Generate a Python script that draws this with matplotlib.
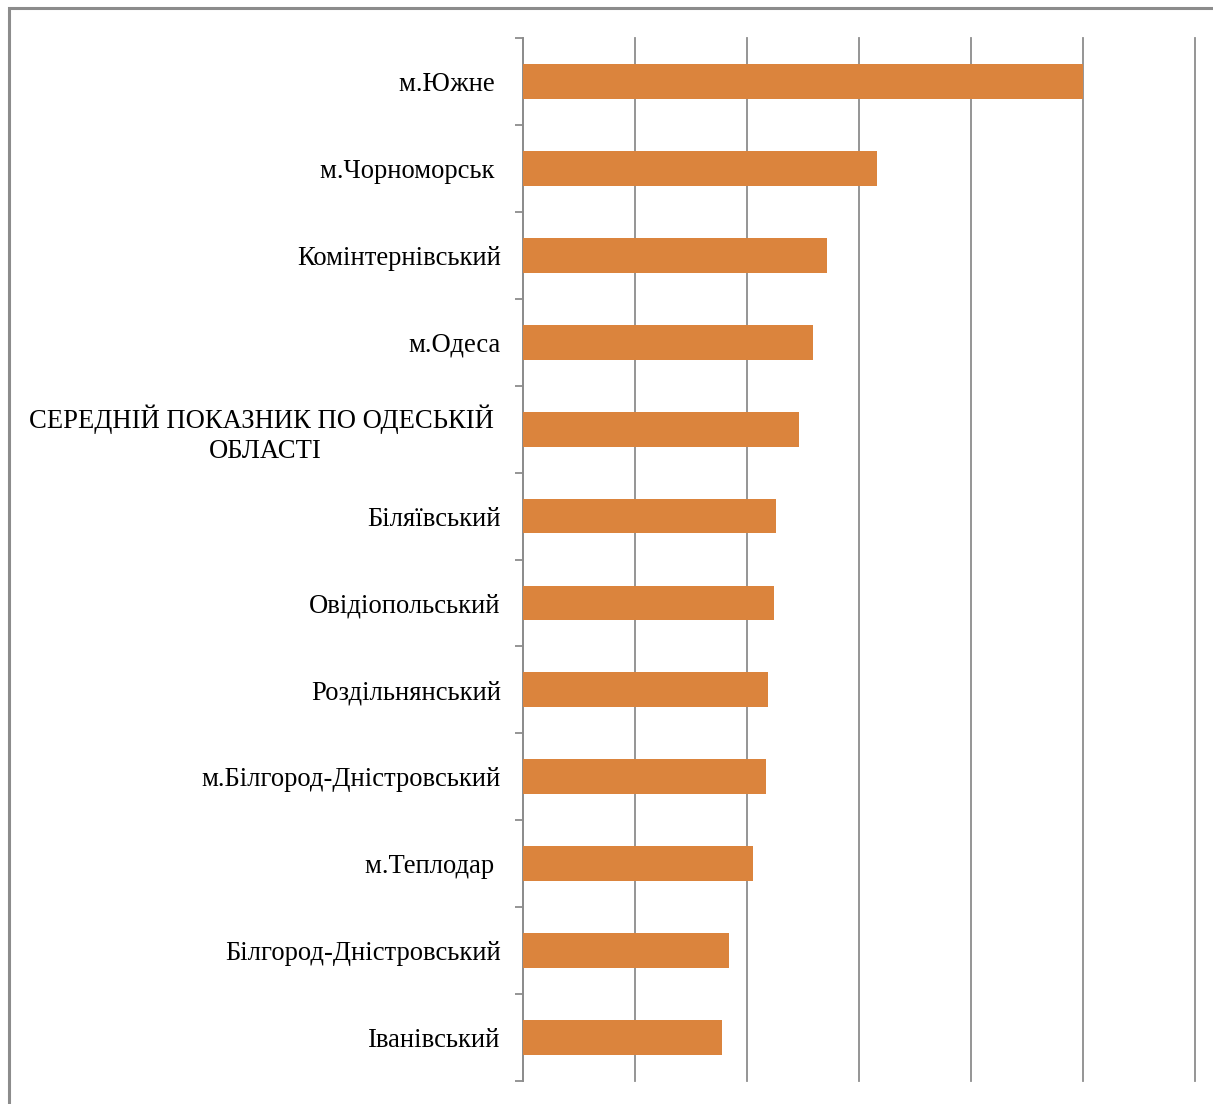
import numpy as np
import matplotlib
matplotlib.use("Agg")
import matplotlib.pyplot as plt
from matplotlib.patches import Rectangle

# Categories, top to bottom
districts = [
    "м.Южне ",
    "м.Чорноморськ ",
    "Комінтернівський",
    "м.Одеса",
    "СЕРЕДНІЙ ПОКАЗНИК ПО ОДЕСЬКІЙ \nОБЛАСТІ",
    "Біляївський",
    "Овідіопольський",
    "Роздільнянський",
    "м.Білгород-Дністровський",
    "м.Теплодар ",
    "Білгород-Дністровський",
    "Іванівський",
]
# values in grid units (axis labels are not visible in the source)
values = [5.0, 3.16, 2.71, 2.59, 2.46, 2.26, 2.24, 2.19, 2.17, 2.05, 1.84, 1.78]
x_grid = [0, 1, 2, 3, 4, 5, 6]

plt.rcParams["font.family"] = ["Liberation Serif", "DejaVu Serif"]

fig = plt.figure(figsize=(12.13, 11.04), dpi=100)
ax = fig.add_axes([523 / 1213, 1 - 1081 / 1104, (1195 - 523) / 1213, (1081 - 38) / 1104])

# outer chart frame (cropped at right and bottom in the source)
fig.patches.append(Rectangle((9 / 1213, -0.05), 1.2, 1 - 8 / 1104 + 0.05,
                             transform=fig.transFigure, fill=False,
                             edgecolor="#8c8c8c", linewidth=2.2))

y = np.arange(len(districts))
ax.barh(y, values, height=0.4, color="#db843d", zorder=3)

ax.set_xlim(x_grid[0], x_grid[-1])
ax.set_ylim(len(districts) - 0.5, -0.5)
ax.set_xticks(x_grid)
ax.set_xticklabels([])
ax.tick_params(axis="x", length=0)
ax.grid(axis="x", color="#8c8c8c", linewidth=1.3, zorder=0)
for gl in ax.xaxis.get_gridlines():
    gl.set_clip_on(False)

ax.set_yticks(y)
ax.set_yticklabels(districts, fontsize=19.2, multialignment="center",
                   linespacing=1.25)
ax.tick_params(axis="y", which="major", length=0, pad=16)
ax.set_yticks(np.arange(len(districts) + 1) - 0.5, minor=True)
ax.tick_params(axis="y", which="minor", length=6, width=1.3, color="#8c8c8c")

for s in ["top", "right", "bottom"]:
    ax.spines[s].set_visible(False)
ax.spines["left"].set_color("#8c8c8c")
ax.spines["left"].set_linewidth(1.3)

fig.savefig("out.png", dpi=100)
